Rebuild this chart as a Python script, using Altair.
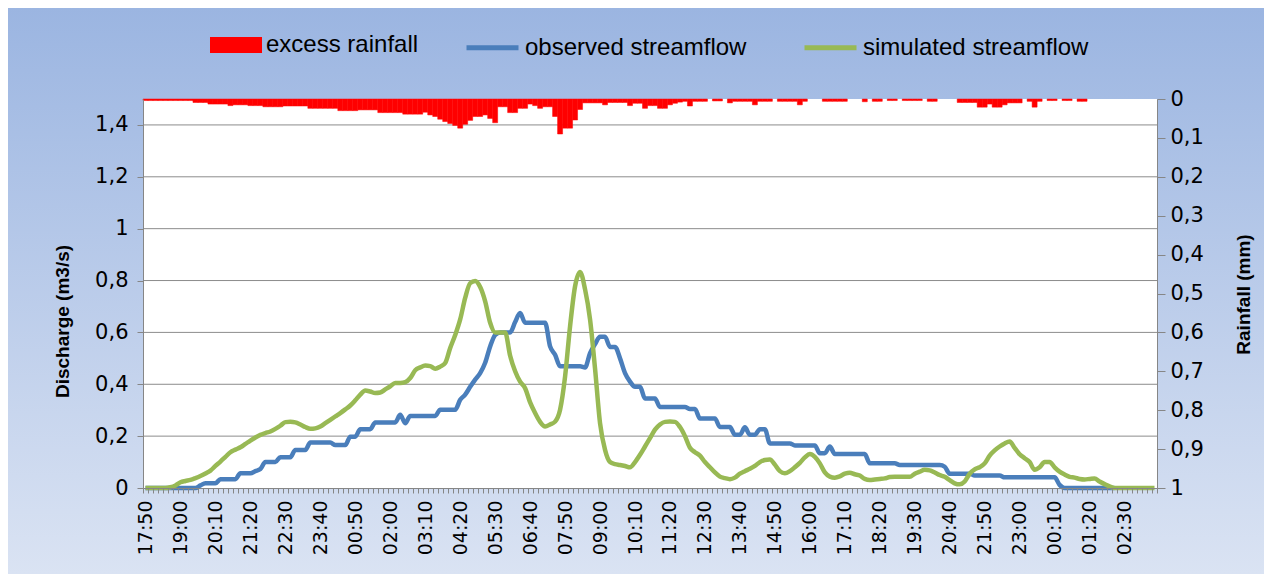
import altair as alt
import pandas as pd

# ---------------- data ----------------
TIME_LABELS = ["17:50", "19:00", "20:10", "21:20", "22:30", "23:40", "00:50",
               "02:00", "03:10", "04:20", "05:30", "06:40", "07:50", "09:00",
               "10:10", "11:20", "12:30", "13:40", "14:50", "16:00", "17:10",
               "18:20", "19:30", "20:40", "21:50", "23:00", "00:10", "01:20",
               "02:30"]

# excess rainfall (mm) per 10-minute step, 203 steps
RAIN = [
    0.004, 0.004, 0.004, 0.004, 0.004, 0.004, 0.004, 0.004, 0.004, 0.004,
    0.009, 0.009, 0.009, 0.013, 0.013, 0.013, 0.013, 0.017, 0.015, 0.015,
    0.015, 0.017, 0.017, 0.017, 0.020, 0.020, 0.020, 0.020, 0.018, 0.018,
    0.018, 0.018, 0.018, 0.024, 0.024, 0.024, 0.024, 0.024, 0.024, 0.030,
    0.030, 0.030, 0.030, 0.028, 0.028, 0.028, 0.028, 0.035, 0.035, 0.035,
    0.035, 0.035, 0.039, 0.039, 0.039, 0.039, 0.034, 0.041, 0.045, 0.052,
    0.058, 0.063, 0.068, 0.075, 0.065, 0.055, 0.045, 0.045, 0.041, 0.050,
    0.061, 0.020, 0.020, 0.035, 0.035, 0.024, 0.024, 0.013, 0.017, 0.024,
    0.020, 0.020, 0.045, 0.090, 0.075, 0.075, 0.054, 0.027, 0.010, 0.010,
    0.010, 0.010, 0.015, 0.009, 0.009, 0.009, 0.009, 0.017, 0.011, 0.011,
    0.024, 0.017, 0.017, 0.024, 0.024, 0.015, 0.011, 0.008, 0.006, 0.018,
    0.006, 0.006, 0.006, 0.000, 0.005, 0.005, 0.000, 0.010, 0.006, 0.006,
    0.006, 0.006, 0.015, 0.006, 0.006, 0.006, 0.000, 0.006, 0.006, 0.006,
    0.006, 0.015, 0.006, 0.000, 0.000, 0.000, 0.006, 0.006, 0.006, 0.006,
    0.006, 0.000, 0.000, 0.000, 0.007, 0.000, 0.006, 0.006, 0.000, 0.004,
    0.004, 0.000, 0.004, 0.004, 0.004, 0.004, 0.000, 0.006, 0.006, 0.000,
    0.000, 0.000, 0.000, 0.009, 0.009, 0.009, 0.009, 0.021, 0.021, 0.013,
    0.021, 0.021, 0.015, 0.010, 0.010, 0.010, 0.000, 0.006, 0.021, 0.006,
    0.000, 0.004, 0.004, 0.000, 0.004, 0.004, 0.000, 0.006, 0.006, 0.000,
    0.000, 0.000, 0.000, 0.000, 0.000, 0.000, 0.000, 0.000, 0.000, 0.000,
    0.000, 0.000, 0.000,
]

# observed streamflow (m3/s)
OBSERVED = [
    0, 0, 0, 0, 0, 0, 0, 0, 0, 0,
    0, 0.010, 0.018, 0.018, 0.018, 0.034, 0.034, 0.034, 0.034, 0.057,
    0.057, 0.057, 0.065, 0.073, 0.100, 0.100, 0.100, 0.119, 0.119, 0.119,
    0.147, 0.147, 0.147, 0.175, 0.175, 0.175, 0.175, 0.175, 0.166, 0.166,
    0.166, 0.198, 0.198, 0.227, 0.227, 0.227, 0.253, 0.253, 0.253, 0.253,
    0.253, 0.282, 0.250, 0.278, 0.278, 0.278, 0.278, 0.278, 0.278, 0.302,
    0.302, 0.302, 0.302, 0.340, 0.360, 0.390, 0.418, 0.443, 0.483, 0.546,
    0.590, 0.600, 0.600, 0.600, 0.640, 0.675, 0.637, 0.637, 0.637, 0.637,
    0.637, 0.546, 0.514, 0.469, 0.469, 0.469, 0.469, 0.469, 0.465, 0.520,
    0.555, 0.583, 0.583, 0.544, 0.544, 0.500, 0.443, 0.410, 0.390, 0.390,
    0.345, 0.345, 0.345, 0.312, 0.312, 0.312, 0.312, 0.312, 0.312, 0.305,
    0.305, 0.268, 0.268, 0.268, 0.268, 0.235, 0.235, 0.235, 0.205, 0.205,
    0.234, 0.205, 0.205, 0.227, 0.227, 0.172, 0.172, 0.172, 0.172, 0.172,
    0.164, 0.164, 0.164, 0.164, 0.164, 0.134, 0.134, 0.160, 0.131, 0.131,
    0.131, 0.131, 0.131, 0.131, 0.131, 0.095, 0.095, 0.095, 0.095, 0.095,
    0.095, 0.089, 0.089, 0.089, 0.089, 0.089, 0.089, 0.089, 0.089, 0.089,
    0.082, 0.055, 0.055, 0.055, 0.055, 0.055, 0.048, 0.048, 0.048, 0.048,
    0.048, 0.048, 0.041, 0.041, 0.041, 0.041, 0.041, 0.041, 0.041, 0.041,
    0.041, 0.041, 0.041, 0.012, 0, 0, 0, 0, 0, 0,
    0, 0, 0, 0, 0,
]

# simulated streamflow (m3/s)
SIMULATED = [
    0, 0, 0, 0, 0, 0.003, 0.010, 0.022, 0.027, 0.031,
    0.038, 0.046, 0.056, 0.067, 0.085, 0.102, 0.120, 0.138, 0.148, 0.157,
    0.170, 0.183, 0.195, 0.205, 0.212, 0.218, 0.228, 0.240, 0.254, 0.255,
    0.253, 0.245, 0.235, 0.228, 0.230, 0.237, 0.250, 0.263, 0.276, 0.289,
    0.303, 0.318, 0.338, 0.360, 0.376, 0.372, 0.366, 0.368, 0.380, 0.392,
    0.405, 0.405, 0.408, 0.424, 0.454, 0.465, 0.472, 0.470, 0.460, 0.468,
    0.482, 0.540, 0.590, 0.650, 0.733, 0.790, 0.798, 0.775, 0.720, 0.637,
    0.600, 0.600, 0.600, 0.510, 0.450, 0.410, 0.385, 0.330, 0.289, 0.255,
    0.237, 0.245, 0.256, 0.302, 0.430, 0.624, 0.778, 0.833, 0.766, 0.650,
    0.460, 0.250, 0.147, 0.100, 0.092, 0.089, 0.085, 0.080, 0.100, 0.128,
    0.160, 0.192, 0.225, 0.245, 0.255, 0.256, 0.255, 0.235, 0.200, 0.155,
    0.138, 0.125, 0.100, 0.080, 0.060, 0.044, 0.038, 0.034, 0.040, 0.055,
    0.065, 0.074, 0.085, 0.100, 0.108, 0.110, 0.090, 0.065, 0.057, 0.065,
    0.080, 0.097, 0.118, 0.131, 0.120, 0.095, 0.060, 0.044, 0.040, 0.045,
    0.055, 0.059, 0.053, 0.048, 0.035, 0.031, 0.033, 0.035, 0.037, 0.042,
    0.043, 0.043, 0.043, 0.043, 0.055, 0.063, 0.070, 0.068, 0.060, 0.050,
    0.043, 0.030, 0.018, 0.014, 0.025, 0.055, 0.072, 0.080, 0.095, 0.125,
    0.145, 0.160, 0.172, 0.179, 0.155, 0.130, 0.115, 0.100, 0.070, 0.080,
    0.100, 0.100, 0.080, 0.063, 0.052, 0.043, 0.040, 0.035, 0.033, 0.035,
    0.037, 0.025, 0.015, 0.006, 0, 0, 0, 0, 0, 0,
    0, 0, 0,
]

DISCHARGE_TICKS = [0, 0.2, 0.4, 0.6, 0.8, 1.0, 1.2, 1.4]
GRID_LEVELS = [0.2, 0.4, 0.6, 0.8, 1.0, 1.2, 1.4]
RAIN_TICKS = [0, 0.1, 0.2, 0.3, 0.4, 0.5, 0.6, 0.7, 0.8, 0.9, 1.0]
SERIES = ["observed streamflow", "simulated streamflow"]
SERIES_COLORS = ["#4A7EBB", "#98B954"]

# ---------------- layout ----------------
N = len(RAIN)
W, H = 1014, 389
PAD_L, PAD_T, PAD_R, PAD_B = 135, 91, 107, 86

rain_df = pd.DataFrame({"i": list(range(N)), "rain": RAIN})
rain_df = rain_df[rain_df["rain"] > 0]
obs_df = pd.DataFrame({"i": list(range(len(OBSERVED))), "q": OBSERVED,
                       "series": SERIES[0]})
sim_df = pd.DataFrame({"i": list(range(len(SIMULATED))), "q": SIMULATED,
                       "series": SERIES[1]})
grid_df = pd.DataFrame({"g": GRID_LEVELS})
one = pd.DataFrame({"k": [1]})

label_array = "[" + ",".join("'" + t + "'" for t in TIME_LABELS) + "]"
x_scale = alt.Scale(domain=[0, N], nice=False, zero=False)
x_axis = alt.Axis(
    values=list(range(N + 1)),
    labelExpr=f"(datum.value % 7 == 0 && datum.value / 7 < {len(TIME_LABELS)}) ? {label_array}[datum.value / 7] : ''",
    labelAngle=270, labelAlign="right", labelBaseline="middle",
    labelOverlap=False, labelFlush=False, labelOffset=2.5, labelPadding=7,
    labelFont="DejaVu Sans", labelFontSize=19, labelColor="#000000",
    tickSize=5, tickColor="#868686", domainColor="#868686",
    grid=False, title=None, zindex=1,
)
comma_expr = "replace(format(datum.value, '.1~f'), '.', ',')"
left_axis = alt.Axis(
    values=DISCHARGE_TICKS, labelExpr=comma_expr, orient="left",
    labelFont="DejaVu Sans", labelFontSize=21, labelColor="#000000",
    labelPadding=9, tickSize=6, tickColor="#868686", domainColor="#868686",
    grid=False, zindex=1,
    title="Discharge (m3/s)", titleFont="Liberation Sans", titleFontSize=19,
    titleFontWeight="bold", titleColor="#000000", titleAngle=270,
    titleX=-81, titleY=222, titleAlign="center", titleBaseline="middle",
)
right_axis = alt.Axis(
    values=RAIN_TICKS, labelExpr=comma_expr, orient="right",
    labelFont="DejaVu Sans", labelFontSize=21, labelColor="#000000",
    labelPadding=5, tickSize=8, tickColor="#868686", domainColor="#868686",
    grid=False, zindex=1,
    title="Rainfall (mm)", titleFont="Liberation Sans", titleFontSize=19,
    titleFontWeight="bold", titleColor="#000000", titleAngle=270,
    titleX=86, titleY=195, titleAlign="center", titleBaseline="middle",
)

# background gradient (whole chart) and white plot area
bg = alt.Chart(one).mark_rect(
    fill=alt.LinearGradient(
        gradient="linear",
        stops=[alt.GradientStop(color="#9BB5E1", offset=0),
               alt.GradientStop(color="#DAE3F3", offset=1)],
        x1=0, x2=0, y1=0, y2=1),
).encode(x=alt.value(-PAD_L), x2=alt.value(W + PAD_R),
         y=alt.value(-PAD_T), y2=alt.value(H + PAD_B))

plot_bg = alt.Chart(one).mark_rect(fill="#FFFFFF").encode(
    x=alt.value(0), x2=alt.value(W), y=alt.value(0), y2=alt.value(H))

grid = alt.Chart(grid_df).mark_rule(color="#8C8C8C", strokeWidth=1).encode(
    y=alt.Y("g:Q", scale=alt.Scale(domain=[0, 1.5], nice=False), axis=None),
    x=alt.value(0), x2=alt.value(W))

bars = alt.Chart(rain_df).transform_calculate(
    i1="datum.i + 1", zero="0", name="'excess rainfall'"
).mark_rect(stroke="#FF0000", strokeWidth=0.5).encode(
    x=alt.X("i:Q", scale=x_scale, axis=x_axis),
    x2="i1:Q",
    y=alt.Y("rain:Q", scale=alt.Scale(domain=[0, 1], reverse=True, nice=False),
            axis=right_axis),
    y2="zero:Q",
    fill=alt.Fill("name:N", scale=alt.Scale(domain=["excess rainfall"], range=["#FF0000"]),
                  legend=alt.Legend(orient="none", legendX=67, legendY=-80,
                                    direction="horizontal", title=None,
                                    symbolType="M-1,-0.31L1,-0.31L1,0.31L-1,0.31Z",
                                    symbolSize=2704, symbolStrokeWidth=0,
                                    labelFont="Liberation Sans", labelFontSize=24,
                                    labelColor="#000000", labelOffset=4,
                                    labelLimit=500, padding=0)),
)

line_legend = alt.Legend(orient="none", legendX=321, legendY=-80,
                         direction="horizontal", title=None,
                         symbolType="stroke", symbolSize=2704, symbolStrokeWidth=5,
                         labelFont="Liberation Sans", labelFontSize=24,
                         labelColor="#000000", labelOffset=4, columnPadding=47,
                         labelLimit=500, padding=0)
y_flow = alt.Y("q:Q", scale=alt.Scale(domain=[0, 1.5], nice=False), axis=left_axis)
stroke_enc = alt.Stroke("series:N", scale=alt.Scale(domain=SERIES, range=SERIES_COLORS),
                        legend=line_legend)

obs_line = alt.Chart(obs_df).transform_calculate(xc="datum.i + 0.5").mark_line(
    strokeWidth=4.5, interpolate="monotone").encode(
    x=alt.X("xc:Q", scale=x_scale, axis=x_axis), y=y_flow, stroke=stroke_enc)
sim_line = alt.Chart(sim_df).transform_calculate(xc="datum.i + 0.5").mark_line(
    strokeWidth=4.5, interpolate="monotone").encode(
    x=alt.X("xc:Q", scale=x_scale, axis=x_axis), y=y_flow, stroke=stroke_enc)

lines = alt.layer(obs_line, sim_line)

chart = alt.layer(bg, plot_bg, grid, bars, lines).resolve_scale(
    y="independent"
).properties(
    width=W, height=H,
    autosize=alt.AutoSizeParams(type="none"),
    padding={"left": PAD_L, "top": PAD_T, "right": PAD_R, "bottom": PAD_B},
).configure_view(strokeWidth=0)

chart.save("out.html", embed_options={"renderer": "svg", "actions": False})
